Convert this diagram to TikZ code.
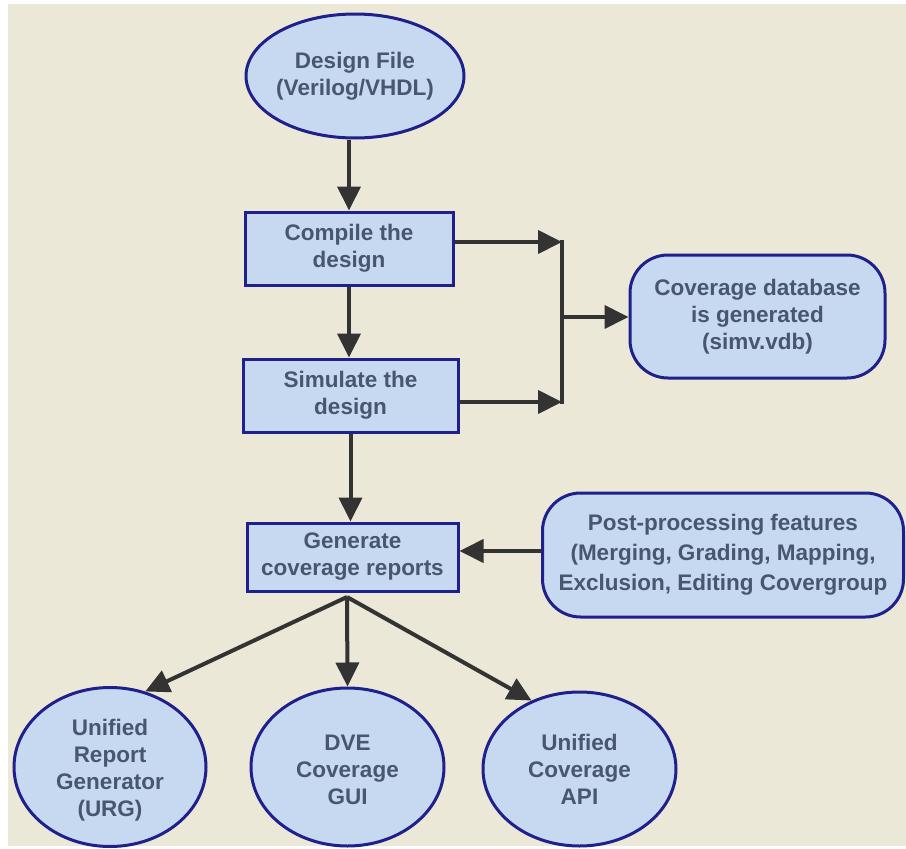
\documentclass[tikz,border=0pt]{standalone}
\usepackage{fontspec}
\setmainfont{Liberation Sans}
\usetikzlibrary{arrows.meta,shapes.geometric}

\definecolor{paper}{RGB}{236,232,216}
\definecolor{shapefill}{RGB}{198,217,240}
\definecolor{shapeedge}{RGB}{32,32,140}
\definecolor{labeltext}{RGB}{72,86,112}
\definecolor{arrowgray}{RGB}{51,51,51}

\begin{document}
\begin{tikzpicture}[x=1pt,y=-1pt,
  every node/.style={font=\bfseries\fontsize{22.5}{27}\selectfont,
                     text=labeltext, align=center},
  boxnode/.style={rectangle, draw=shapeedge, line width=3pt, fill=shapefill, inner sep=0pt},
  pillnode/.style={boxnode, rounded corners=38pt},
  ovalnode/.style={ellipse, draw=shapeedge, line width=3pt, fill=shapefill, inner sep=0pt},
  flow/.style={draw=arrowgray, line width=4pt, -{Triangle[length=24pt,width=23pt]}},
  bar/.style={draw=arrowgray, line width=4pt, line cap=rect}]

\useasboundingbox (0,0) rectangle (906,849);
\fill[white] (0,0) rectangle (906,849);
\fill[paper] (8,4) rectangle (906,846);

% main flow
\node[ovalnode, minimum width=218pt, minimum height=124pt,
      label={center:{Design File\\(Verilog/VHDL)}}] (design) at (355,76) {};
\node[boxnode, minimum width=208pt, minimum height=73pt] (compile) at (349,248.5)
  {Compile the\\design};
\node[boxnode, minimum width=215pt, minimum height=73pt] (simulate) at (350.5,395.5)
  {Simulate the\\design};
\node[boxnode, minimum width=211pt, minimum height=68pt] (generate) at (352.5,557)
  {Generate\\coverage reports};

% side boxes
\node[pillnode, minimum width=255pt, minimum height=123pt] (vdb) at (757.5,316.5)
  {Coverage database\\is generated\\(simv.vdb)};
\node[pillnode, minimum width=361pt, minimum height=124pt,
      font=\bfseries\fontsize{22.5}{30}\selectfont] (post) at (723,555)
  {Post-processing features\\(Merging, Grading, Mapping,\\Exclusion, Editing Covergroup};

% report consumers
\node[ovalnode, minimum width=192pt, minimum height=159pt,
      label={[yshift=-3pt]center:{Unified\\Report\\Generator\\(URG)}}] (urg) at (110,767) {};
\node[ovalnode, minimum width=193pt, minimum height=158pt,
      label={[yshift=-3pt]center:{DVE\\Coverage\\GUI}}] (dve) at (347.5,767) {};
\node[ovalnode, minimum width=193pt, minimum height=154pt,
      label={center:{Unified\\Coverage\\API}}] (api) at (579.5,769) {};

% junction points
\coordinate (c1) at (562,242);
\coordinate (c2) at (562,402);
\coordinate (cj) at (564,317);
\coordinate (gy) at (0,551);
\coordinate (split) at (347,597);

% connectors
\draw[flow] (compile.north |- design.south) -- (compile.north);
\draw[flow] (compile.south) -- (compile.south |- simulate.north);
\draw[flow] (simulate.south) -- (simulate.south |- generate.north);

\draw[flow] (compile.east |- c1) -- (c1);
\draw[flow] (simulate.east |- c2) -- (c2);
\draw[bar] (c1) -- (c2);
\draw[flow] (cj) -- (vdb.west |- cj);

\draw[flow] (post.west |- gy) -- (generate.east |- gy);

\draw[flow] (split) -- (urg.65);
\draw[flow] (split) -- (dve.north);
\draw[flow] (split) -- (api.125);
\end{tikzpicture}
\end{document}
